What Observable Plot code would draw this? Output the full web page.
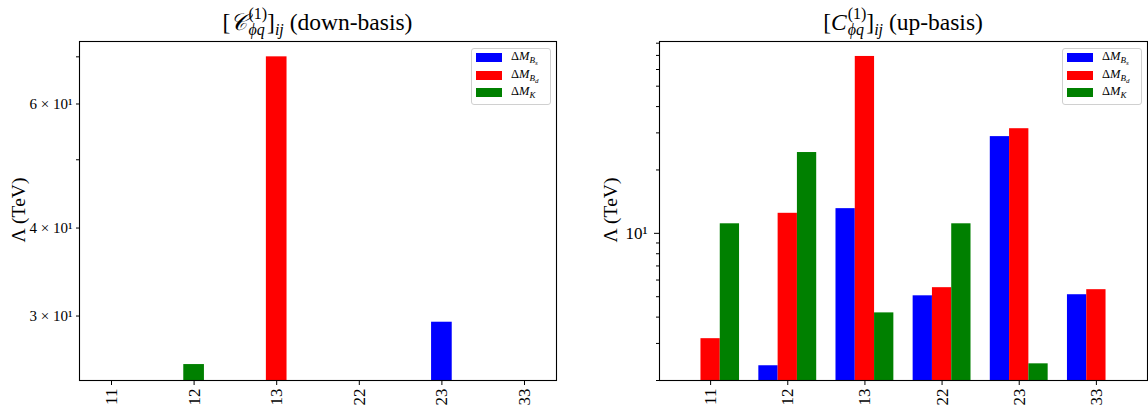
<!DOCTYPE html>
<html>
<head>
<meta charset="utf-8">
<script src="https://cdn.jsdelivr.net/npm/d3@7"></script>
<script src="https://cdn.jsdelivr.net/npm/@observablehq/plot@0.6"></script>
<style>
  html, body { margin: 0; padding: 0; background: #fff; }
  #wrap { position: relative; width: 1148px; height: 414px; overflow: hidden; font-family: "Liberation Serif", "DejaVu Serif", serif; color: #000; }
  .panel { position: absolute; top: 0; }
  .title { position: absolute; top: 6px; text-align: center; font-size: 23.5px; line-height: 26px; white-space: nowrap; }
  .stack { display: inline-block; vertical-align: -5px; font-size: 16px; line-height: 16px; text-align: left; margin-left: 1px; }
  .stack span { display: block; }
  .title sub { font-size: 16px; vertical-align: -5px; line-height: 0; }
  .ylab { position: absolute; top: 210px; font-size: 19.5px; line-height: 20px; white-space: nowrap; transform: translate(-50%, -50%) rotate(-90deg); }
  .legend { position: absolute; top: 48px; width: 78px; height: 55px; border: 1px solid #d0d0d0; border-radius: 3px; background: rgba(255,255,255,0.85); font-size: 12.5px; }
  .row { position: absolute; left: 4px; height: 12px; }
  .sw { position: absolute; left: 0; top: 0; width: 26px; height: 9px; }
  .lab { position: absolute; left: 35px; top: -4px; white-space: nowrap; line-height: 14px; }
  .lab sub { font-size: 9px; vertical-align: -3px; }
  .lab sub sub { font-size: 7px; vertical-align: -2px; }
  .ytl { font-family: "Liberation Serif", serif; }
</style>
</head>
<body>
<div id="wrap"></div>
<script>
// ---- data ----
const categories = ["11", "12", "13", "22", "23", "33"];
const seriesNames = ["Bs", "Bd", "K"];
const seriesColors = ["#0000ff", "#ff0000", "#008000"];

// down-basis (left panel)
const downBs = [null, null, null, null, 29.4, null];
const downBd = [null, null, 70.0, null, null, null];
const downK  = [null, 25.6, null, null, null, null];

// up-basis (right panel)
const upBs = [null, 2.35, 13.1, 5.05, 28.8, 5.11];
const upBd = [3.16, 12.45, 69.2, 5.52, 31.4, 5.40];
const upK  = [11.1, 24.2, 4.19, 11.1, 2.40, null];

// tick values
const leftTicks = [30, 40, 50, 60, 70];
const leftLabeledTicks = [30, 40, 60];
const leftTickLabels = ["3 × 10¹", "4 × 10¹", "6 × 10¹"];
const rightMinorTicks = [2, 3, 4, 5, 6, 7, 8, 9, 20, 30, 40, 50, 60, 70, 80];
const rightMajorTicks = [10];
const rightMajorLabels = ["10¹"];

const leftYDomain = [24.3, 73.6];
const rightYDomain = [2.0, 81.5];

// ---- build ----
const barW = 0.25;
function rowsFor(vals, offsets) {
  const out = [];
  vals.forEach((arr, k) => arr.forEach((v, i) => {
    if (v != null) out.push({i, s: seriesNames[k], v, off: offsets[k]});
  }));
  return out;
}
const leftRows = rowsFor([downBs, downBd, downK], [0, 0, 0]);
const rightRows = rowsFor([upBs, upBd, upK], [-barW, 0, barW]);

const idx = d3.range(categories.length);
const commonStyle = {fontFamily: "Liberation Serif, DejaVu Serif, serif", color: "#000", background: "transparent", overflow: "visible"};

function makePanel(opts) {
  const yMin = opts.yDomain[0];
  return Plot.plot({
    width: 574, height: 414,
    marginLeft: opts.ml, marginRight: opts.mr, marginTop: 41, marginBottom: 34,
    style: commonStyle,
    x: {domain: opts.xDomain},
    y: {type: "log", domain: opts.yDomain},
    color: {domain: seriesNames, range: seriesColors},
    marks: [
      Plot.rect(opts.rows, {
        x1: d => d.i + d.off - barW / 2,
        x2: d => d.i + d.off + barW / 2,
        y1: yMin, y2: "v", fill: "s", clip: true
      }),
      Plot.axisX({ticks: idx, tickFormat: i => categories[i], tickRotate: -90, tickSize: 5, tickPadding: 3, fontSize: 17, label: null}),
      ...opts.yAxes,
      Plot.text(opts.labelTicks, {
        y: d => d, text: (d, i) => opts.labelTexts[i],
        frameAnchor: "left", textAnchor: "end", dx: -opts.labelGap, fontSize: opts.labelSize,
        className: "ytl"
      }),
      Plot.frame({stroke: "#000", strokeWidth: 1.1})
    ]
  });
}

const left = makePanel({
  ml: 79, mr: 18, xDomain: [-0.3875, 5.3875], yDomain: leftYDomain, rows: leftRows,
  labelTicks: leftLabeledTicks, labelTexts: leftTickLabels, labelGap: 7, labelSize: 15,
  yAxes: [
    Plot.axisY({ticks: leftTicks, tickSize: 3, tickFormat: () => "", label: null})
  ]
});
const right = makePanel({
  ml: 85, mr: 1, xDomain: [-0.6625, 5.6625], yDomain: rightYDomain, rows: rightRows,
  labelTicks: rightMajorTicks, labelTexts: rightMajorLabels, labelGap: 12, labelSize: 17,
  yAxes: [
    Plot.axisY({ticks: rightMinorTicks, tickSize: 3, tickFormat: () => "", label: null}),
    Plot.axisY({ticks: rightMajorTicks, tickSize: 5, tickFormat: () => "", label: null})
  ]
});

const wrap = document.getElementById("wrap");
function place(el, x) {
  const d = document.createElement("div");
  d.className = "panel"; d.style.left = x + "px";
  d.appendChild(el); wrap.appendChild(d);
}
place(left, 0);
place(right, 574);

function addTitle(html, x, w) {
  const t = document.createElement("div");
  t.className = "title"; t.style.left = x + "px"; t.style.width = w + "px";
  t.innerHTML = html; wrap.appendChild(t);
}
addTitle('[<i>𝒞</i><span class="stack"><span>(1)</span><span><i>ϕq</i></span></span>]<sub><i>ij</i></sub> (down-basis)', 79, 477);
addTitle('[<i>C</i><span class="stack"><span>(1)</span><span><i>ϕq</i></span></span>]<sub><i>ij</i></sub> (up-basis)', 659, 488);

function addYLabel(x) {
  const l = document.createElement("div");
  l.className = "ylab"; l.style.left = x + "px";
  l.textContent = "Λ (TeV)"; wrap.appendChild(l);
}
addYLabel(19);
addYLabel(611);

const legLabels = [
  'Δ<i>M</i><sub><i>B</i><sub><i>s</i></sub></sub>',
  'Δ<i>M</i><sub><i>B</i><sub><i>d</i></sub></sub>',
  'Δ<i>M</i><sub><i>K</i></sub>'
];
function addLegend(x) {
  const L = document.createElement("div");
  L.className = "legend"; L.style.left = x + "px";
  const tops = [4, 22, 39];
  seriesNames.forEach((s, k) => {
    const r = document.createElement("div");
    r.className = "row"; r.style.top = tops[k] + "px";
    r.innerHTML = `<div class="sw" style="background:${seriesColors[k]}"></div><div class="lab">${legLabels[k]}</div>`;
    L.appendChild(r);
  });
  wrap.appendChild(L);
}
addLegend(471);
addLegend(1062);
</script>
</body>
</html>
